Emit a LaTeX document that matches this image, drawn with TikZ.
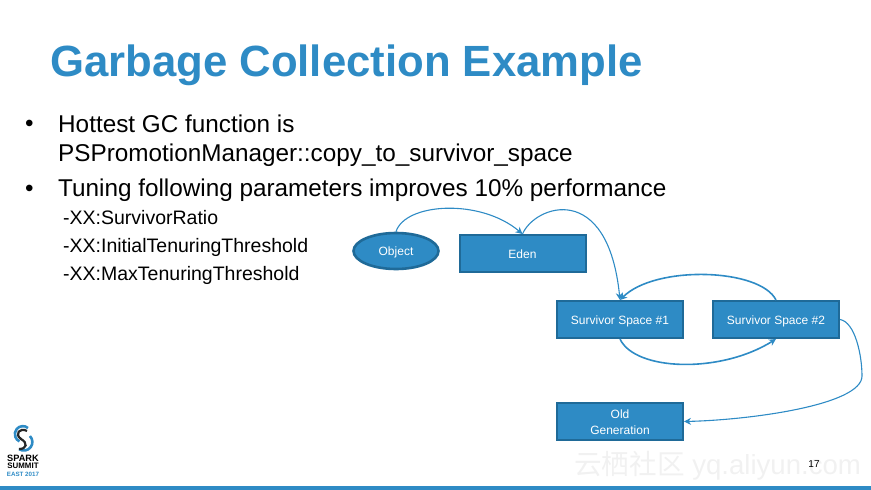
\documentclass[tikz,border=0pt]{standalone}
\usepackage{fontspec}
\setmainfont{Liberation Sans}
\newfontfamily\cjkfont{Noto Sans CJK SC}
\usetikzlibrary{arrows.meta, shapes.geometric}
\definecolor{sparkblue}{HTML}{2E8BC5}
\definecolor{sparkedge}{HTML}{1F6A98}
\definecolor{markgray}{HTML}{F1F1F1}

\begin{document}
\begin{tikzpicture}[
    x=1pt, y=-1pt,
    bloco/.style={draw=sparkedge, fill=sparkblue, line width=2pt, align=center, minimum width=126pt, minimum height=37pt, inner sep=0pt, text=white, text height=11pt, text depth=2pt, font=\fontsize{12}{16}\selectfont},
    seta/.style={-{Stealth[length=7pt, width=7pt]}, draw=sparkblue, line width=1.1pt},
    setag/.style={seta, line width=1.6pt},
    corpo/.style={anchor=base west, inner sep=0pt, font=\fontsize{24.3}{28}\selectfont},
    sub/.style={anchor=base west, inner sep=0pt, font=\fontsize{19.5}{23}\selectfont},
    logo/.style={anchor=center, inner sep=0pt, font=\fontsize{9.2}{10}\bfseries\selectfont}
]
\useasboundingbox (0,0) rectangle (871,490);
\fill[sparkblue] (0,486) rectangle (871,490);

% title and bullets
\node[anchor=base west, inner sep=0pt, text=sparkblue, font=\fontsize{43.7}{48}\bfseries\selectfont] (titulo) at (50,76) {Garbage Collection Example};
\node[corpo] (ponto1) at (25,131) {•};
\node[corpo] (hot1) at (58,132) {Hottest GC function is};
\node[corpo] (hot2) at (58,161) {PSPromotionManager::copy\_to\_survivor\_space};
\node[corpo] (ponto2) at (25,196) {•};
\node[corpo] (tune) at (58,196) {Tuning following parameters improves 10\% performance};
\node[sub] (par1) at (63,224.5) {-XX:SurvivorRatio};
\node[sub] (par2) at (63,252.5) {-XX:InitialTenuringThreshold};
\node[sub] (par3) at (63,280.5) {-XX:MaxTenuringThreshold};

% heap regions
\node[ellipse, bloco, line width=2.6pt, minimum width=85pt, minimum height=36pt] (object) at (396,251) {Object};
\node[bloco] (eden) at (522.5,253.5) {Eden};
\node[bloco] (surv1) at (620,319.5) {Survivor Space \#1};
\node[bloco] (surv2) at (776,319.5) {Survivor Space \#2};
\node[bloco, text height=27pt, text depth=1pt] (old) at (620,421.5) {Old\\Generation};
\coordinate (volta) at (862,376);

\draw[seta] (object.north) .. controls (405,203) and (480,198) .. (eden.north);
\draw[seta] (eden.north) .. controls (535,205) and (608,180) .. (surv1.north);
\draw[setag] (surv2.north) .. controls (760,268) and (655,265) .. (surv1.north);
\draw[setag] (surv1.south) .. controls (635,371) and (720,374) .. (surv2.south);
\draw[seta] (surv2.east) .. controls (855,322) and (862,355) .. (volta) .. controls (862,405) and (750,420) .. (old.east);

% logo
\draw[sparkblue, line width=2.6pt] (28,428) arc[start angle=50, end angle=245, radius=8pt];
\draw[sparkblue, line width=2.6pt] (19,449) arc[start angle=235, end angle=405, radius=8.5pt];
\draw[black!85, line width=2.2pt] (27,431) .. controls (20,427) and (14,434) .. (21,439) .. controls (28,443) and (27,449) .. (19,449);
\node[logo] (spark) at (23,458) {SPARK};
\node[logo, font=\fontsize{7.9}{9}\bfseries\selectfont] (summit) at (23,466) {SUMMIT};
\node[logo, text=sparkblue, font=\fontsize{6.2}{7}\bfseries\selectfont] (east) at (23,474) {EAST 2017};

% page number and site mark
\node[text=markgray, inner sep=0pt, anchor=west, font=\fontsize{27.6}{30}\selectfont] (site) at (574,466) {{\cjkfont 云栖社区} yq.aliyun.com};
\node[inner sep=0pt, font=\fontsize{10}{12}\selectfont] (pagina) at (814,464) {17};
\end{tikzpicture}
\end{document}
